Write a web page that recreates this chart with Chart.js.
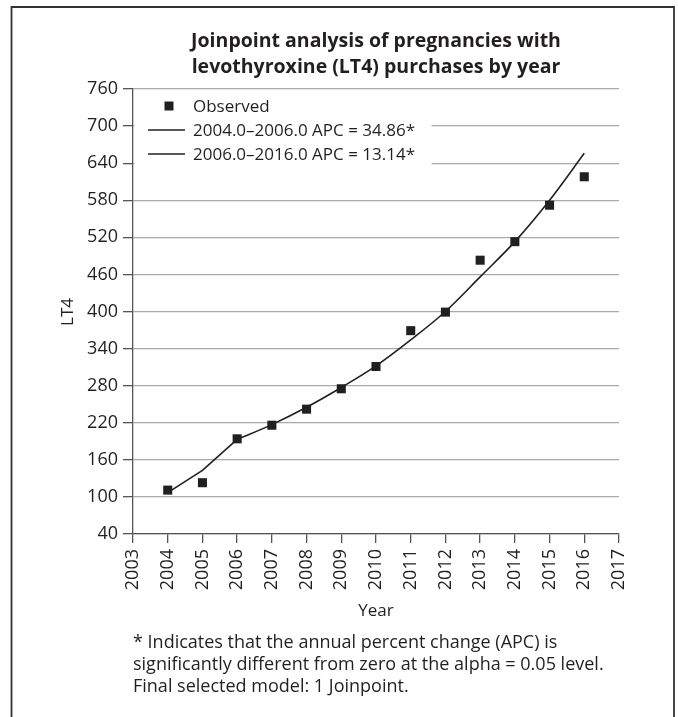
<!DOCTYPE html>
<html>
<head>
<meta charset="utf-8">
<title>Joinpoint LT4</title>
<script src="https://cdn.jsdelivr.net/npm/chart.js@4.4.1/dist/chart.umd.min.js"></script>
<style>
    html, body { margin: 0; padding: 0; background: #fff; }
    canvas { display: block; }
</style>
</head>
<body>
<canvas id="grafico-lt4" width="678" height="717"></canvas>
<script>
// --- DATA ---
const years = [2004, 2005, 2006, 2007, 2008, 2009, 2010, 2011, 2012, 2013, 2014, 2015, 2016];
const observed = [111, 123, 194, 216, 242, 275, 311, 369, 399, 483, 513, 572, 618];

// fitted joinpoint segments
const segment1Years = [2004, 2005, 2006];
const segment1Values = [107, 143, 193];
const segment2Years = [2006, 2007, 2008, 2009, 2010, 2011, 2012, 2013, 2014, 2015, 2016];
const segment2Values = [193, 217, 245, 277, 312, 354, 400, 456, 513, 580, 656];

const labels = ['Observed', '2004.0\u20132006.0 APC = 34.86*', '2006.0\u20132016.0 APC = 13.14*'];
const titleLines = ['Joinpoint analysis of pregnancies with', 'levothyroxine (LT4) purchases by year'];
const footnoteLines = [
    '* Indicates that the annual percent change (APC) is',
    'significantly different from zero at the alpha = 0.05 level.',
    'Final selected model: 1 Joinpoint.'
];

const INK = '#231f20';
const FONT = '"Open Sans", "DejaVu Sans", sans-serif';

function toPoints(xs, ys) {
    return xs.map((x, i) => ({ x: x, y: ys[i] }));
}

// --- DECORATIONS: frame, title, legend, axis titles, footnote ---
const decorations = {
    id: 'decorations',
    afterDraw(chart) {
        const ctx = chart.ctx;
        const area = chart.chartArea;
        const cx = (area.left + area.right) / 2;
        ctx.save();

        // frame
        ctx.strokeStyle = '#333';
        ctx.lineWidth = 1.8;
        ctx.beginPath();
        ctx.moveTo(11.5, 720);
        ctx.lineTo(11.5, 7);
        ctx.lineTo(674, 7);
        ctx.lineTo(674, 720);
        ctx.stroke();

        // title
        ctx.fillStyle = INK;
        ctx.textAlign = 'center';
        ctx.textBaseline = 'alphabetic';
        ctx.font = 'bold 19.5px ' + FONT;
        ctx.fillText(titleLines[0], cx, 47);
        ctx.fillText(titleLines[1], cx, 73);

        // legend box
        ctx.fillStyle = '#fff';
        ctx.fillRect(area.left + 1.5, 93, 297, 73);
        ctx.fillStyle = INK;
        ctx.strokeStyle = INK;
        ctx.textAlign = 'left';
        ctx.textBaseline = 'middle';
        ctx.font = '17px ' + FONT;
        const rows = [106, 130, 154];
        ctx.fillRect(169 - 4.5, rows[0] - 4.5, 9, 9);
        ctx.lineWidth = 1.5;
        for (let i = 1; i < 3; i++) {
            ctx.beginPath();
            ctx.moveTo(148, rows[i]);
            ctx.lineTo(185, rows[i]);
            ctx.stroke();
        }
        labels.forEach((t, i) => ctx.fillText(t, 193, rows[i] + 1));

        // axis titles
        ctx.textAlign = 'center';
        ctx.textBaseline = 'alphabetic';
        ctx.font = '17px ' + FONT;
        ctx.fillText('Year', cx, 616);
        ctx.save();
        ctx.translate(73, 312);
        ctx.rotate(-Math.PI / 2);
        ctx.fillText('LT4', 0, 0);
        ctx.restore();

        // footnote
        ctx.textAlign = 'left';
        ctx.font = '18px ' + FONT;
        footnoteLines.forEach((t, i) => ctx.fillText(t, 133, 648 + i * 22));

        ctx.restore();
    }
};

// --- CHART ---
const ctx = document.getElementById('grafico-lt4').getContext('2d');
new Chart(ctx, {
    type: 'scatter',
    data: {
        datasets: [
            {
                label: labels[0],
                data: toPoints(years, observed),
                pointStyle: 'rect',
                pointRadius: 6.4,
                backgroundColor: INK,
                borderColor: INK,
                borderWidth: 0,
                showLine: false,
                order: 0
            },
            {
                label: labels[1],
                data: toPoints(segment1Years, segment1Values),
                showLine: true,
                borderColor: INK,
                borderWidth: 1.6,
                pointRadius: 0,
                tension: 0,
                order: 1
            },
            {
                label: labels[2],
                data: toPoints(segment2Years, segment2Values),
                showLine: true,
                borderColor: INK,
                borderWidth: 1.6,
                pointRadius: 0,
                tension: 0.35,
                order: 1
            }
        ]
    },
    options: {
        responsive: false,
        animation: false,
        layout: { padding: { left: 0, right: 59, top: 89, bottom: 0 } },
        plugins: {
            legend: { display: false },
            title: { display: false },
            tooltip: { enabled: false }
        },
        scales: {
            x: {
                type: 'linear',
                min: 2003,
                max: 2017,
                afterFit: s => { s.height = 183; },
                ticks: {
                    stepSize: 1,
                    minRotation: 90,
                    maxRotation: 90,
                    padding: 6,
                    color: INK,
                    font: { family: FONT, size: 18 },
                    callback: v => String(v)
                },
                grid: { drawOnChartArea: false, drawTicks: true, tickLength: 9, tickColor: '#555', lineWidth: 1.3 },
                border: { display: true, color: '#555', width: 1.3 }
            },
            y: {
                min: 40,
                max: 760,
                afterFit: s => { s.width = 133; },
                ticks: {
                    stepSize: 60,
                    padding: 5,
                    color: INK,
                    font: { family: FONT, size: 18 }
                },
                grid: { color: '#a9a9a9', lineWidth: 1.3, tickLength: 10, tickColor: '#555' },
                border: { display: true, color: '#555', width: 1.3 }
            }
        }
    },
    plugins: [decorations]
});
</script>
</body>
</html>
